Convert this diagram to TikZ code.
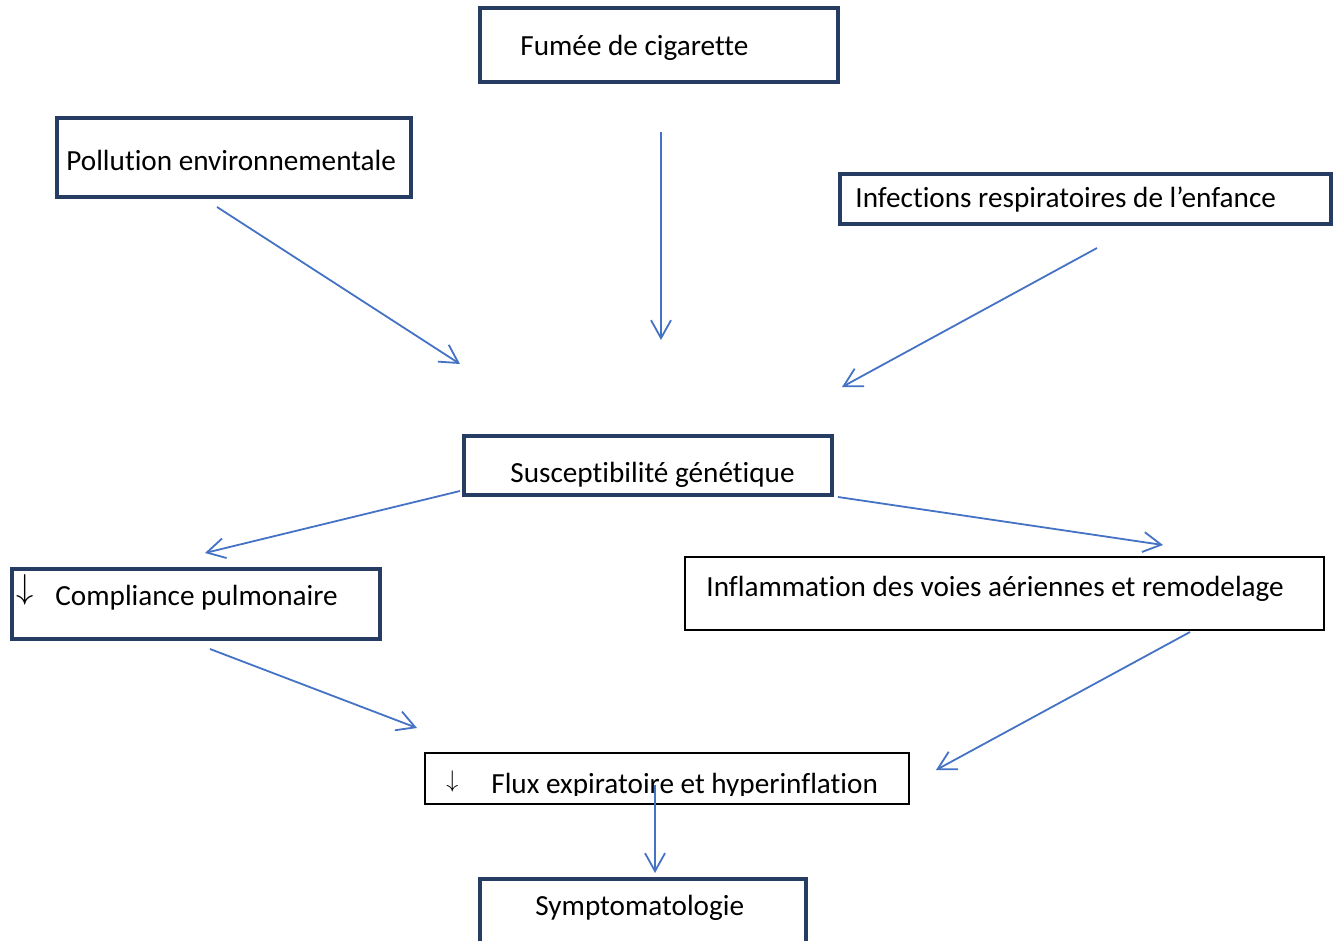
\documentclass[tikz,border=0pt]{standalone}
\usepackage{fontspec}
\setmainfont{Carlito}[RawFeature={-liga;-clig;-calt;-dlig}]
\usepackage{tikz}
\usetikzlibrary{arrows.meta, positioning}

\definecolor{navy}{RGB}{38,60,98}
\definecolor{wordblue}{RGB}{68,114,196}

\begin{document}
\begin{tikzpicture}[x=0.5pt, y=-0.5pt,
  box/.style={draw=navy, line width=2.4pt, inner sep=0pt},
  thinbox/.style={draw=black, line width=1pt, inner sep=0pt},
  lbl/.style={anchor=base west, inner sep=0pt, font=\fontsize{14.6}{17}\selectfont},
  darr/.style={anchor=south west, inner sep=0pt},
  arr/.style={draw=wordblue, line width=0.9pt, -{Straight Barb[length=9pt, width=10pt]}}]

\clip (0,0) rectangle (1337,941);
\useasboundingbox (0,0) rectangle (1337,941);

% boxes
\node[box, minimum width=179pt, minimum height=37pt] (fumee) at (659,45) {};
\node[box, minimum width=177pt, minimum height=39.5pt] (pollution) at (234,157.5) {};
\node[box, minimum width=245.5pt, minimum height=25pt] (infections) at (1085.5,199) {};
\node[box, minimum width=184pt, minimum height=29.5pt] (suscept) at (648,465.5) {};
\node[box, minimum width=184pt, minimum height=35pt] (compliance) at (196,604) {};
\node[thinbox, minimum width=319.5pt, minimum height=36.5pt] (inflam) at (1004.5,593.5) {};
\node[thinbox, minimum width=242pt, minimum height=25.5pt] (flux) at (667,778.5) {};
\node[box, minimum width=163pt, minimum height=41pt] (symptom) at (643,920) {};

% texts
\node[lbl] (fumee-t) at (520,56) {Fumée de cigarette};
\node[lbl] (pollution-t) at (66,171) {Pollution environnementale};
\node[lbl] (infections-t) at (855,207) {Infections respiratoires de l’enfance};
\node[lbl] (suscept-t) at (510,482) {Susceptibilité génétique};
\node[darr, font=\fontsize{16}{18}\selectfont] (compliance-d) at (16,606) {$\downarrow$};
\node[lbl] (compliance-t) at (55,605) {Compliance pulmonaire};
\node[lbl] (inflam-t) at (706,596) {Inflammation des voies aériennes et remodelage};
\begin{scope}
  \clip (425,740) rectangle (910,795);
  \node[darr, font=\fontsize{12}{14}\selectfont] (flux-d) at (446,793) {$\downarrow$};
  \node[lbl] (flux-t) at (491,793) {Flux expiratoire et hyperinflation};
\end{scope}
\node[lbl] (symptom-t) at (535,915) {Symptomatologie};

% arrow ends
\coordinate (p1) at (217,207);  \coordinate (p2) at (460,364);
\coordinate (f1) at (661,132);  \coordinate (f2) at (661,340);
\coordinate (i1) at (1097,248); \coordinate (i2) at (842,387);
\coordinate (sl1) at (460,491); \coordinate (sl2) at (205,553);
\coordinate (sr1) at (838,497); \coordinate (sr2) at (1163,545);
\coordinate (c1) at (210,649);  \coordinate (c2) at (417,728);
\coordinate (in1) at (1190,632);\coordinate (in2) at (936,770);
\coordinate (fl1) at (655,785); \coordinate (fl2) at (655,873);

\draw[arr] (p1) -- (p2);
\draw[arr] (f1) -- (f2);
\draw[arr] (i1) -- (i2);
\draw[arr] (sl1) -- (sl2);
\draw[arr] (sr1) -- (sr2);
\draw[arr] (c1) -- (c2);
\draw[arr] (in1) -- (in2);
\draw[arr] (fl1) -- (fl2);
\end{tikzpicture}
\end{document}
